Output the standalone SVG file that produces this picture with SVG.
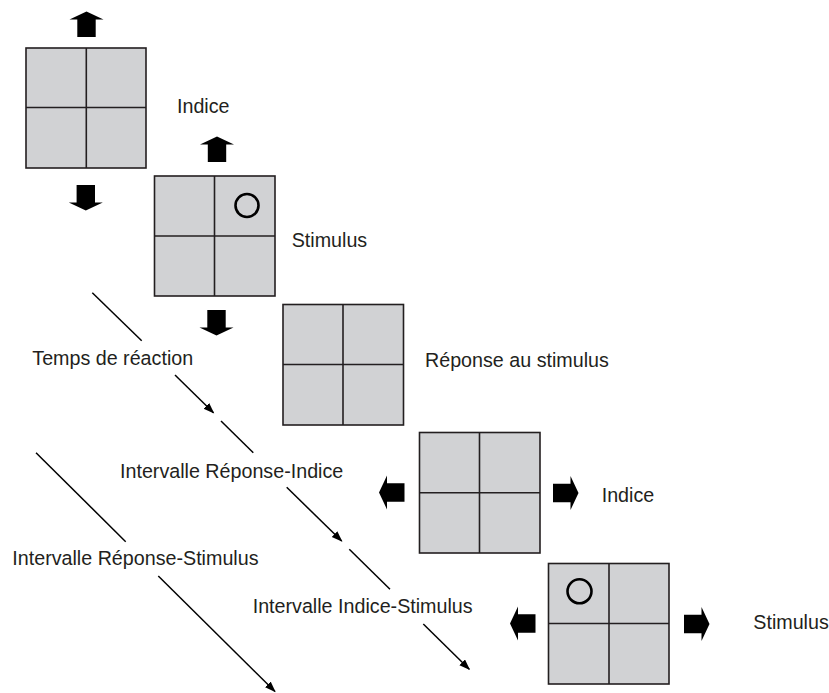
<svg xmlns="http://www.w3.org/2000/svg" width="829" height="693" viewBox="0 0 829 693">
<style>
.cell{fill:#d1d2d4;stroke:#231f20;stroke-width:1.6}
.div{stroke:#231f20;stroke-width:1.6}
.dot{fill:none;stroke:#000;stroke-width:2.6}
.blk{fill:#000}
.lbl{font-family:"Liberation Sans",Arial,sans-serif;font-size:19.7px;fill:#231f20}
.con{stroke:#000;stroke-width:1.5;fill:none}
</style>
<defs>
<path id="arr" d="M0,0 L17,8 L9.2,8 L9.2,25.5 L-9.2,25.5 L-9.2,8 L-17,8 Z"/>
<marker id="ah" markerWidth="12" markerHeight="10" refX="10" refY="4" orient="auto" markerUnits="userSpaceOnUse">
<path d="M0,0 L11,4 L0,8 Z" fill="#000"/>
</marker>
</defs>
<rect width="829" height="693" fill="#fff"/>

<g id="panel1">
<rect class="cell" x="26" y="48" width="120" height="120"/>
<line class="div" x1="86.3" y1="48" x2="86.3" y2="168"/>
<line class="div" x1="26" y1="107.5" x2="146" y2="107.5"/>
<use href="#arr" class="blk" transform="translate(86.5,11.5)"/>
<use href="#arr" class="blk" transform="translate(85.8,210.5) rotate(180)"/>
</g>

<g id="panel2">
<rect class="cell" x="154.5" y="176" width="120.5" height="120"/>
<line class="div" x1="214.5" y1="176" x2="214.5" y2="296"/>
<line class="div" x1="154.5" y1="236" x2="275" y2="236"/>
<circle class="dot" cx="247" cy="205.5" r="11.5"/>
<use href="#arr" class="blk" transform="translate(217,136.5)"/>
<use href="#arr" class="blk" transform="translate(216.5,335.5) rotate(180)"/>
</g>

<g id="panel3">
<rect class="cell" x="283" y="304.5" width="120.5" height="120.5"/>
<line class="div" x1="343" y1="304.5" x2="343" y2="425"/>
<line class="div" x1="283" y1="364.5" x2="403.5" y2="364.5"/>
</g>

<g id="panel4">
<rect class="cell" x="419.5" y="432.5" width="120.5" height="120.5"/>
<line class="div" x1="479.5" y1="432.5" x2="479.5" y2="553"/>
<line class="div" x1="419.5" y1="492.8" x2="540" y2="492.8"/>
<use href="#arr" class="blk" transform="translate(379,492.5) rotate(-90)"/>
<use href="#arr" class="blk" transform="translate(578.5,493) rotate(90)"/>
</g>

<g id="panel5">
<rect class="cell" x="548.5" y="563.5" width="120.5" height="120.5"/>
<line class="div" x1="609" y1="563.5" x2="609" y2="684"/>
<line class="div" x1="548.5" y1="623.5" x2="669" y2="623.5"/>
<circle class="dot" cx="579.5" cy="591.3" r="12"/>
<use href="#arr" class="blk" transform="translate(510,623.5) rotate(-90)"/>
<use href="#arr" class="blk" transform="translate(709.5,624) rotate(90)"/>
</g>

<g id="connectors">
<line class="con" x1="92.3" y1="292.7" x2="141.7" y2="340.7"/>
<line class="con" x1="175" y1="375" x2="213.5" y2="412.8" marker-end="url(#ah)"/>
<line class="con" x1="221" y1="421" x2="253.3" y2="452.7"/>
<line class="con" x1="286.7" y1="487.3" x2="341.7" y2="541" marker-end="url(#ah)"/>
<line class="con" x1="349.3" y1="549.3" x2="390" y2="589.3"/>
<line class="con" x1="423.3" y1="624" x2="469.3" y2="669.3" marker-end="url(#ah)"/>
<line class="con" x1="36" y1="452.7" x2="125.7" y2="541.7"/>
<line class="con" x1="158.3" y1="576" x2="275" y2="691.5" marker-end="url(#ah)"/>
</g>

<g id="labels">
<text class="lbl" x="177" y="112.7">Indice</text>
<text class="lbl" x="291.7" y="246.7">Stimulus</text>
<text class="lbl" x="32.3" y="365">Temps de réaction</text>
<text class="lbl" x="425" y="367.3">Réponse au stimulus</text>
<text class="lbl" x="120" y="478">Intervalle Réponse-Indice</text>
<text class="lbl" x="601.7" y="501.7">Indice</text>
<text class="lbl" x="12.3" y="565">Intervalle Réponse-Stimulus</text>
<text class="lbl" x="252.7" y="613.3">Intervalle Indice-Stimulus</text>
<text class="lbl" x="753.3" y="629.3">Stimulus</text>
</g>
</svg>
